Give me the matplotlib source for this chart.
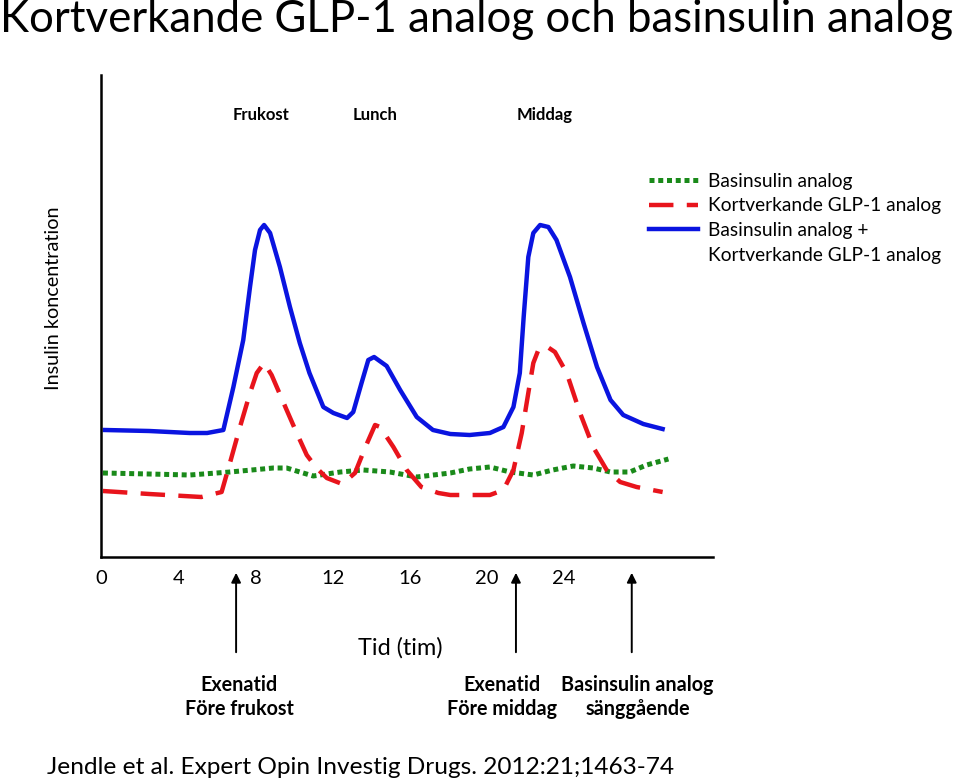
import matplotlib
matplotlib.use("Agg")
import matplotlib.pyplot as plt
from matplotlib.lines import Line2D

plt.rcParams['font.family'] = ['Lato', 'DejaVu Sans']

# time axis (hours) and tick labels
tick_hours = [0, 4, 8, 12, 16, 20, 24]

# curves (time in hours, concentration in arbitrary units)
blue_t = [0.2, 2.5, 4.6, 5.5, 6.34, 6.86, 7.37, 7.72, 7.98, 8.24, 8.45, 8.76, 9.27,
          9.79, 10.3, 10.8, 11.52, 12.04, 12.75, 13.07, 13.5, 13.85, 14.15, 14.8,
          15.5, 16.36, 17.2, 18.1, 19.1, 20.15, 20.85, 21.37, 21.7, 21.9, 22.14,
          22.4, 22.75, 23.18, 23.6, 24.3, 25.0, 25.7, 26.4, 27.06, 28.1, 29.1]
blue_y = [127, 126, 124, 124, 127, 170, 217, 270, 307, 327, 332, 324, 290,
          250, 214, 184, 150, 144, 139, 145, 174, 197, 200, 191,
          167, 140, 127, 123, 122, 124, 130, 150, 184, 240, 300,
          324, 332, 330, 317, 280, 234, 190, 157, 142, 133, 128]

red_t = [0.1, 2.5, 5.2, 6.25, 6.68, 7.2, 7.72, 8.07, 8.45, 8.84, 9.62, 10.14, 10.66,
         11.17, 11.7, 12.5, 13.16, 13.7, 14.2, 14.46, 15.15, 15.84, 16.6, 17.48,
         18.1, 19.1, 20.15, 20.85, 21.37, 21.8, 22.14, 22.4, 22.66, 23.06, 23.52,
         24.13, 24.82, 25.5, 26.2, 26.9, 27.75, 29.1]
red_y = [66, 63, 60, 65, 94, 130, 164, 184, 194, 182, 147, 124, 102,
         89, 79, 73, 84, 110, 132, 130, 110, 87, 70, 64,
         62, 62, 62, 67, 87, 124, 164, 194, 207, 211, 205,
         184, 144, 110, 87, 75, 70, 65]

green_t = [0.1, 2.5, 4.6, 6.68, 8.93, 9.62, 10.3, 11.0, 12.4, 13.6, 14.97, 16.36,
           18.1, 19.1, 20.15, 21.2, 22.4, 23.4, 24.47, 25.5, 26.4, 27.4, 28.27, 29.4]
green_y = [84, 83, 82, 85, 89, 89, 85, 81, 85, 87, 85, 80,
           84, 88, 90, 85, 82, 87, 91, 89, 85, 85, 92, 98]

meal_labels = ['Frukost', 'Lunch', 'Middag']
meal_hours = [8.3, 14.2, 23.0]

arrow_hours = [7.0, 21.5, 27.5]
arrow_text_hours = [7.15, 20.8, 27.8]
arrow_labels = ['Exenatid\nFöre frukost', 'Exenatid\nFöre middag',
                'Basinsulin analog\nsänggående']

W, H = 960, 780
fig = plt.figure(figsize=(W / 100, H / 100), dpi=100)
ax = fig.add_axes([101 / W, (H - 557) / H, 612 / W, (557 - 75) / H])
ax.set_xlim(0, 612 / 19.3)
ax.set_ylim(0, 482)

ax.plot(green_t, green_y, color='#1a8a1a', lw=3.6, ls=(0, (1, 0.75)),
        dash_capstyle='butt', label='Basinsulin analog')
ax.plot(red_t, red_y, color='#e8141c', lw=3.2, ls=(0, (5.5, 3)),
        dash_capstyle='butt', label='Kortverkande GLP-1 analog')
ax.plot(blue_t, blue_y, color='#0a14e0', lw=3.2, solid_joinstyle='round',
        label='Basinsulin analog +')

for s in ['top', 'right']:
    ax.spines[s].set_visible(False)
for s in ['left', 'bottom']:
    ax.spines[s].set_linewidth(1.8)
ax.set_yticks([])
ax.set_xticks(tick_hours)
ax.set_xticklabels([str(h) for h in tick_hours], fontsize=14.5)
ax.tick_params(axis='x', length=0, pad=9)
ax.set_ylabel('Insulin koncentration', fontsize=14.3)
ax.yaxis.set_label_coords(-0.064, 0.537)
ax.set_xlabel('Tid (tim)', fontsize=16.8)
ax.xaxis.set_label_coords(0.489, -0.166)

for lab, t in zip(meal_labels, meal_hours):
    ax.text(t, 442, lab, ha='center', va='center', fontsize=12, fontweight='bold')

for t, tt, lab in zip(arrow_hours, arrow_text_hours, arrow_labels):
    ax.annotate('', xy=(t, -13), xytext=(t, -98), annotation_clip=False,
                arrowprops=dict(arrowstyle='-|>', color='black', lw=1.4,
                                mutation_scale=14))
    ax.text(tt, -140, lab, ha='center', va='center', fontsize=14.2,
            fontweight='bold', linespacing=1.3, clip_on=False)

handles, labels = ax.get_legend_handles_labels()
handles.append(Line2D([], [], color='none'))
labels.append('Kortverkande GLP-1 analog')
fig.legend(handles, labels, loc='upper left', bbox_to_anchor=(641 / W, 1 - 165 / H),
           frameon=False, fontsize=13.8, handlelength=2.55, handletextpad=0.55,
           labelspacing=0.4, borderaxespad=0)

fig.text(0.0, 1 - 20 / H, 'Kortverkande GLP-1 analog och basinsulin analog',
         fontsize=31.5, ha='left', va='center')
fig.text(47 / W, 1 - 767 / H, 'Jendle et al. Expert Opin Investig Drugs. 2012:21;1463-74',
         fontsize=17.6, ha='left', va='center')

fig.savefig('out.png', dpi=100)
